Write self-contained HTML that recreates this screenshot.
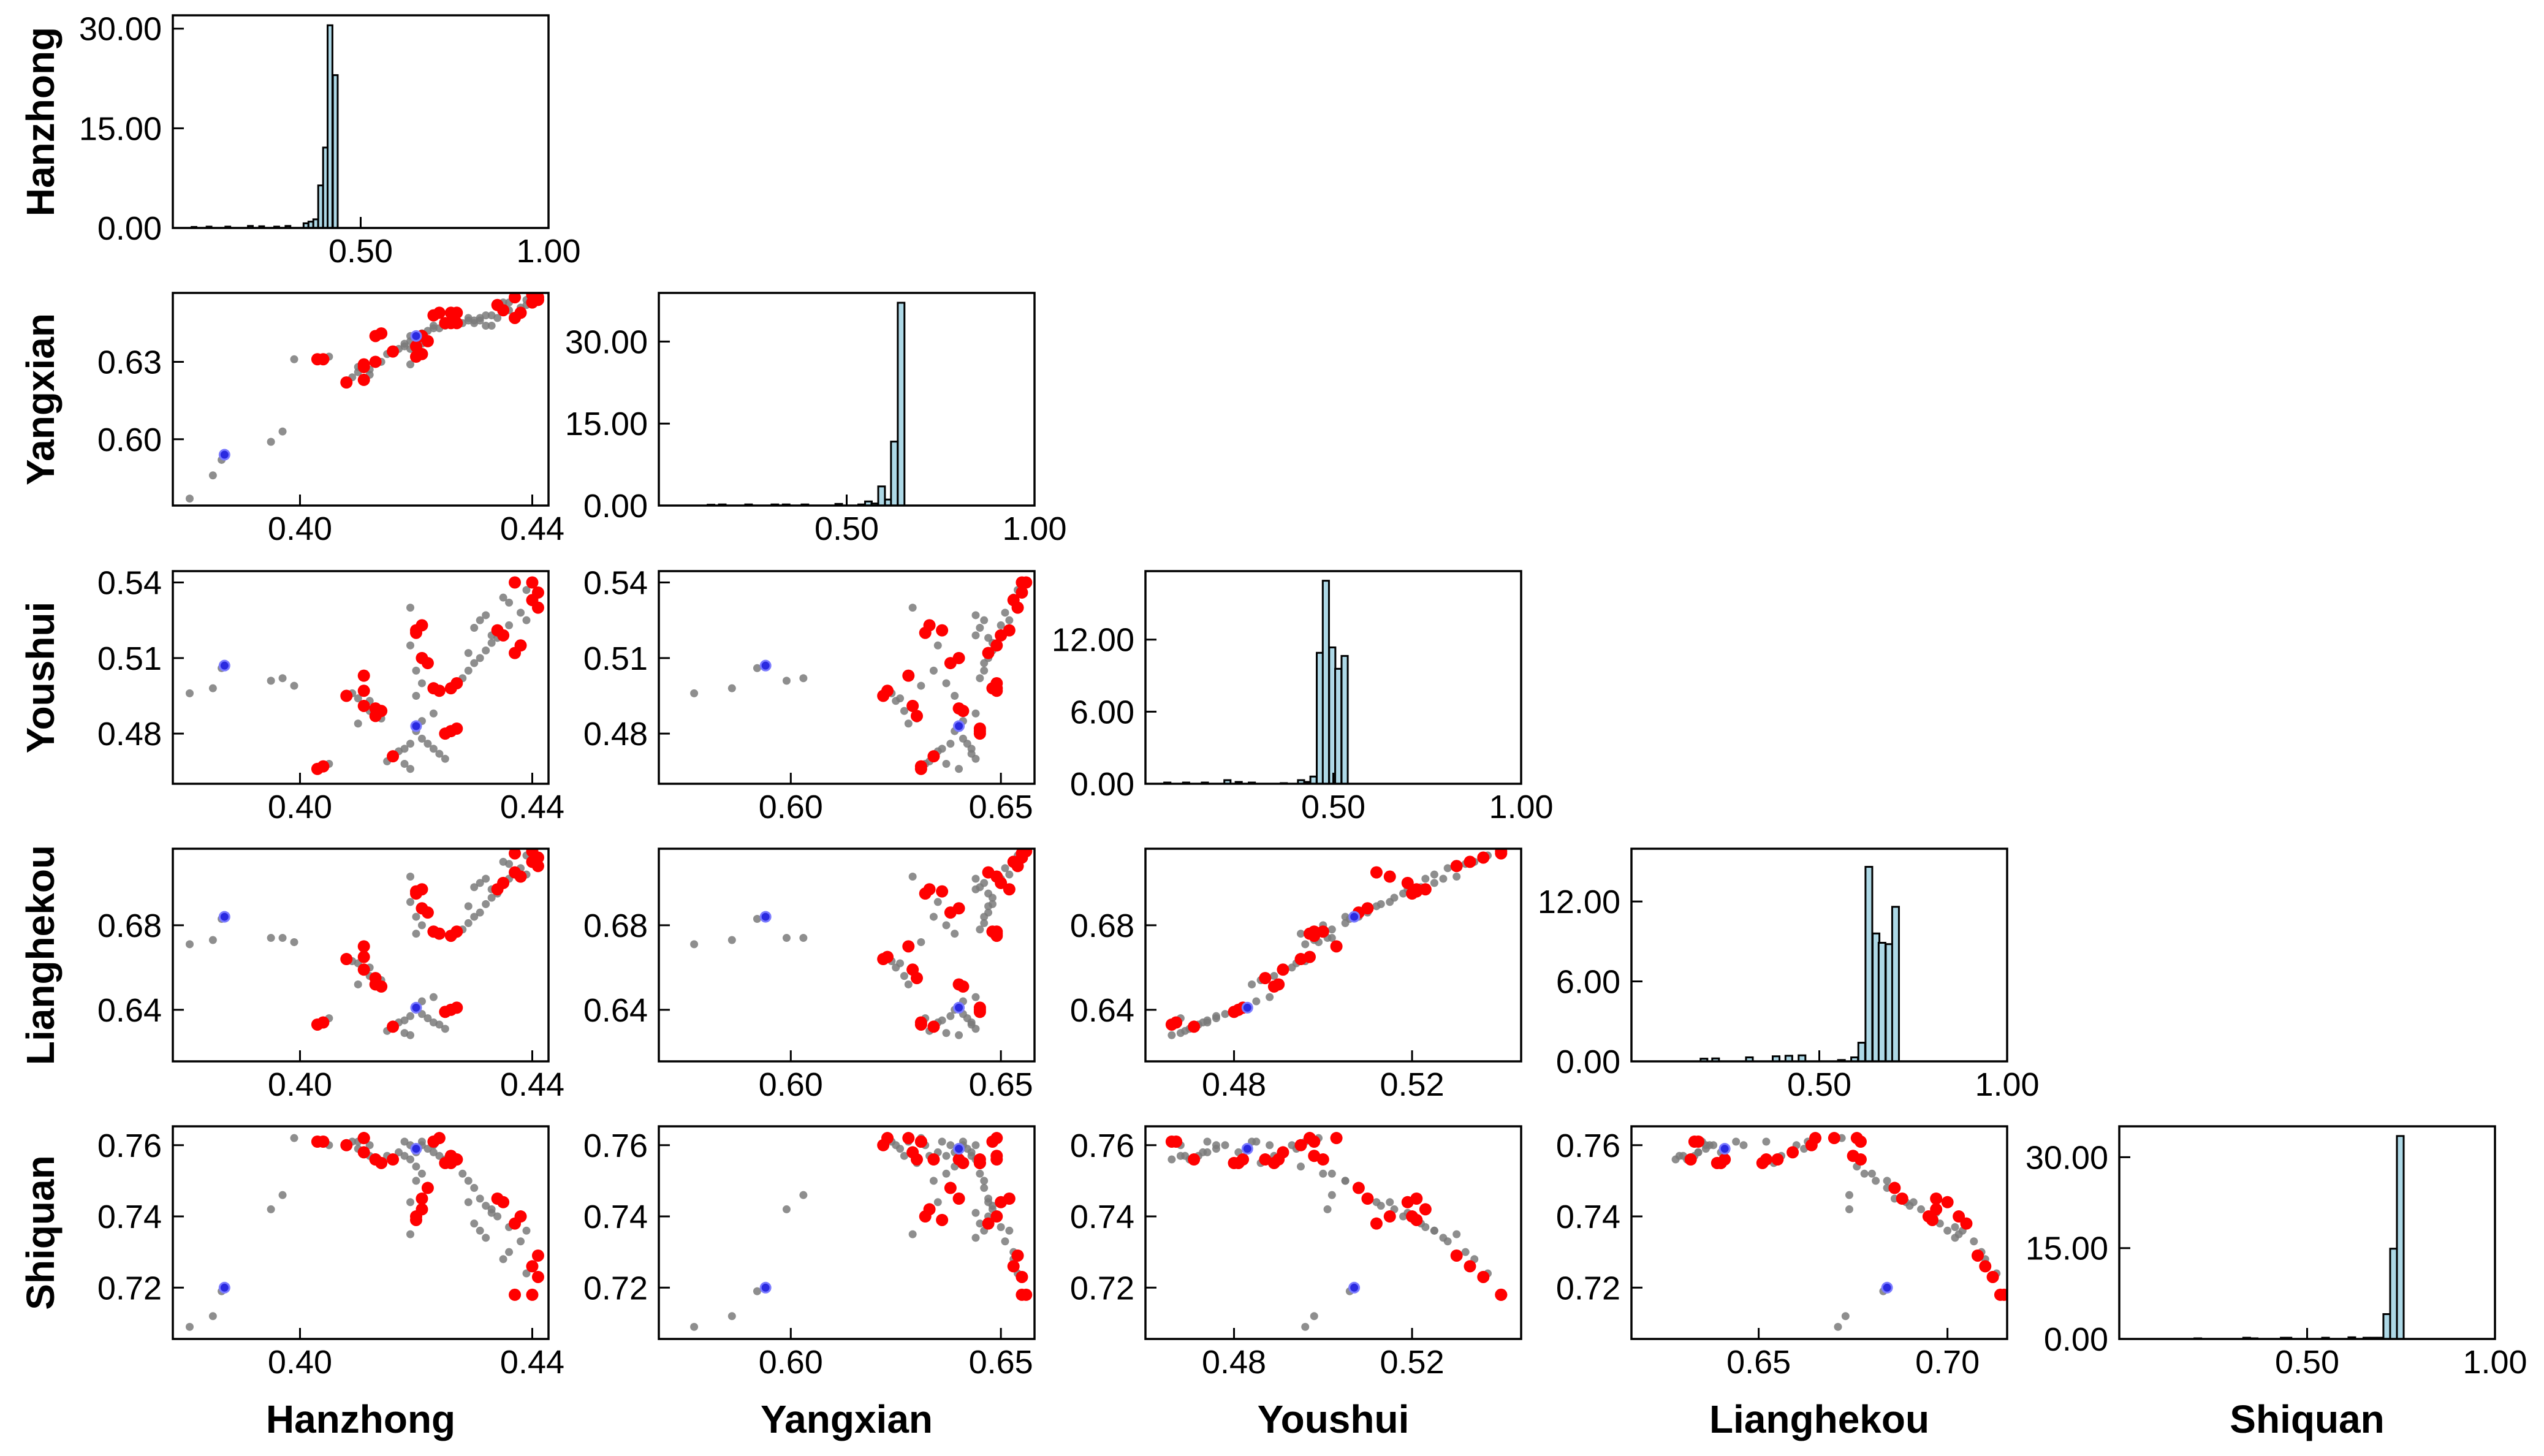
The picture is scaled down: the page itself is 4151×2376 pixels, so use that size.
<!DOCTYPE html>
<html><head><meta charset="utf-8"><style>
html,body{margin:0;padding:0;background:#fff}
svg{display:block}
text{font-family:"Liberation Sans",Arial,sans-serif}
</style></head><body>
<svg id="chart" xmlns="http://www.w3.org/2000/svg" width="4151" height="2376" viewBox="0 0 4151 2376"></svg>
<script>
// ---- data ----
const stations = ["Hanzhong","Yangxian","Youshui","Lianghekou","Shiquan"];
const H  = [.381,.385,.3865,.387,.395,.397,.399,.403,.404,.405,.408,.409,.410,.411,.411,.412,.413,.412,.414,.410,.411,.416,.415,.417,.418,.419,.420,.420,.421,.422,.423,.424,.425,.426,.427,.425,.418,.419,.421,.423,.420,.421,.420,.421,.422,.419,.420,.421,.420,.419,.428,.429,.430,.431,.432,.433,.434,.430,.431,.432,.433,.429,.427,.426,.437,.440,.441,.440,.441,.434,.435,.438,.437,.436,.438,.439,.436,.435,.439,.423,.424,.414,.413];
const Y  = [.577,.586,.592,.594,.599,.603,.631,.631,.631,.632,.622,.624,.626,.628,.629,.627,.630,.625,.630,.628,.623,.634,.633,.635,.636,.638,.640,.639,.641,.642,.643,.643,.644,.645,.645,.645,.637,.640,.641,.644,.632,.633,.636,.640,.638,.635,.634,.637,.639,.629,.645,.646,.646,.647,.648,.648,.647,.645,.646,.644,.644,.647,.649,.649,.655,.656,.655,.653,.654,.652,.650,.649,.647,.653,.651,.652,.650,.653,.654,.648,.649,.641,.640];
const Yo = [.496,.498,.506,.507,.501,.502,.499,.466,.467,.468,.495,.496,.494,.503,.491,.489,.487,.493,.486,.484,.497,.471,.469,.473,.474,.476,.483,.481,.478,.476,.474,.472,.470,.481,.482,.480,.468,.466,.485,.488,.520,.523,.521,.510,.508,.515,.505,.500,.495,.530,.502,.505,.508,.510,.513,.516,.518,.522,.525,.527,.519,.512,.500,.498,.540,.540,.536,.533,.530,.521,.519,.515,.512,.532,.528,.525,.523,.534,.537,.498,.497,.489,.490];
const L  = [.671,.673,.683,.684,.674,.674,.672,.633,.634,.636,.664,.663,.662,.670,.659,.656,.655,.660,.654,.652,.665,.632,.630,.634,.635,.637,.641,.640,.638,.636,.634,.633,.631,.640,.641,.639,.629,.628,.644,.646,.695,.697,.696,.688,.686,.691,.684,.680,.676,.703,.678,.681,.684,.686,.690,.693,.695,.698,.700,.702,.697,.689,.677,.675,.714,.715,.712,.710,.708,.697,.700,.703,.705,.709,.707,.704,.702,.710,.713,.677,.676,.651,.652];
const S  = [.709,.712,.719,.720,.742,.746,.762,.761,.761,.760,.760,.761,.759,.762,.758,.757,.756,.760,.755,.761,.762,.756,.757,.758,.761,.760,.759,.758,.760,.759,.758,.757,.756,.755,.756,.755,.757,.756,.761,.760,.740,.742,.739,.745,.748,.744,.750,.752,.754,.735,.752,.750,.748,.745,.743,.742,.740,.738,.736,.734,.741,.744,.756,.757,.718,.718,.723,.726,.729,.745,.744,.740,.738,.730,.733,.736,.737,.728,.724,.761,.762,.755,.756];
const cls= [0,0,0,2,0,0,0,1,1,0,1,0,0,1,1,0,1,0,0,0,1,1,0,0,0,0,2,0,0,0,0,0,0,1,1,1,0,0,0,0,1,1,1,1,1,0,0,0,0,0,0,0,0,0,0,0,0,0,0,0,0,0,1,1,1,1,1,1,1,1,1,1,1,0,0,0,0,0,0,1,1,1,1];

// histogram bins (left edges) and heights
const histStarts = [
  [0.050,0.090,0.140,0.200,0.230,0.270,0.300,0.348,0.361,0.374,0.387,0.400,0.412,0.426],
  [0.130,0.160,0.230,0.300,0.330,0.380,0.470,0.531,0.549,0.566,0.584,0.602,0.618,0.636],
  [0.050,0.100,0.150,0.210,0.240,0.275,0.360,0.406,0.423,0.439,0.456,0.472,0.489,0.505,0.522],
  [0.184,0.215,0.305,0.376,0.410,0.445,0.550,0.585,0.604,0.623,0.642,0.658,0.677,0.694],
  [0.200,0.330,0.350,0.430,0.440,0.540,0.610,0.650,0.668,0.685,0.703,0.721,0.739]
];
const histCounts = [
  [0.15,0.2,0.2,0.3,0.25,0.2,0.3,0.7,0.95,1.3,6.4,12.1,30.5,23.0],
  [0.15,0.2,0.2,0.2,0.2,0.2,0.3,0.2,0.75,0.37,3.5,1.1,11.7,37.1],
  [0.1,0.1,0.1,0.3,0.15,0.1,0.05,0.3,0.15,0.6,10.9,16.9,11.35,9.57,10.64],
  [0.2,0.22,0.3,0.38,0.42,0.45,0.1,0.3,1.4,14.6,9.6,8.9,8.8,11.6],
  [0.1,0.2,0.1,0.2,0.2,0.2,0.27,0.2,0.2,0.2,4.1,14.9,33.5]
];
const histW = [0.0128,0.0178,0.0165,0.0180,0.0180];
const histYMax = [32.0,38.9,17.7,15.96,35.1];
const histYTicks = [[0,15,30],[0,15,30],[0,6,12],[0,6,12],[0,15,30]];
const histXTicks = [0.5,1.0];

// axis ranges & ticks for scatter use
const xRange = [[0.3781,0.4428],[0.5686,0.658],[0.4601,0.5445],[0.6163,0.7158],[0.7056,0.7653]];
const yRange = [[0.3781,0.4428],[0.5743,0.6567],[0.4601,0.5445],[0.6156,0.7162],[0.7056,0.7653]];
const xTicks = [[0.40,0.44],[0.60,0.65],[0.48,0.52],[0.65,0.70],[0.72,0.74,0.76]];
const yTicks = [[0.40,0.44],[0.60,0.63],[0.48,0.51,0.54],[0.64,0.68],[0.72,0.74,0.76]];

// ---- layout ----
const lefts=[282,1075,1869,2662,3458], tops=[25,478,932,1385,1838], PW=613, PH=347;
const NS="http://www.w3.org/2000/svg";
const svg=document.getElementById("chart");
function mk(tag,attrs,parent){const e=document.createElementNS(NS,tag);for(const k in attrs)e.setAttribute(k,attrs[k]);(parent||svg).appendChild(e);return e;}
const cols=[H,Y,Yo,L,S];

for(let r=0;r<5;r++){
  for(let c=0;c<=r;c++){
    const x0=lefts[c], y0=tops[r];
    const g=mk("g",{});
    
    
    let sx,sy,xt,yt;
    if(r===c){
      sx=v=>x0+v*PW;
      sy=v=>y0+PH-v/histYMax[r]*PH;
      xt=histXTicks; yt=histYTicks[r];
      const st=histStarts[r], ct=histCounts[r];
      for(let i=0;i<st.length;i++){
        const b=mk("rect",{x:sx(st[i]),y:sy(ct[i]),width:histW[r]*PW,height:Math.max(0,PH-(sy(ct[i])-y0)),fill:"#add8e6",stroke:"#000","stroke-width":3},g);
        
        
      }
    } else {
      const xr=xRange[c], yr=yRange[r];
      sx=v=>x0+(v-xr[0])/(xr[1]-xr[0])*PW;
      sy=v=>y0+PH-(v-yr[0])/(yr[1]-yr[0])*PH;
      xt=xTicks[c]; yt=yTicks[r];
      const cp=mk("clipPath",{id:"cp"+r+c},g);
      mk("rect",{x:x0,y:y0,width:PW,height:PH},cp);
      const pg=mk("g",{"clip-path":"url(#cp"+r+c+")"},g);
      for(const pass of [0,1,2]){
        for(let i=0;i<H.length;i++){
          if(cls[i]!==pass)continue;
          const px=sx(cols[c][i]), py=sy(cols[r][i]);
          let d;
          if(pass===0) d=mk("circle",{cx:px,cy:py,r:6.5,fill:"#7a7a7a","fill-opacity":0.85},pg);
          else if(pass===1) d=mk("circle",{cx:px,cy:py,r:10,fill:"#ff0000"},pg);
          else d=mk("circle",{cx:px,cy:py,r:8,fill:"#2a2ae0",stroke:"#7b7bff","stroke-width":3},pg);
          
          
        }
      }
    }
    const f=mk("rect",{x:x0,y:y0,width:PW,height:PH,fill:"none",stroke:"#000","stroke-width":3.5},g);
    
    
    xt.forEach(v=>{
      const px=sx(v);
      mk("line",{x1:px,y1:y0+PH,x2:px,y2:y0+PH-18,stroke:"#000","stroke-width":3},g);
      const t=mk("text",{x:px,y:y0+PH+56,"font-size":54,"text-anchor":"middle",fill:"#000"},g);
      t.textContent=v.toFixed(2);
      
      
    });
    yt.forEach(v=>{
      const py=sy(v);
      mk("line",{x1:x0,y1:py,x2:x0+18,y2:py,stroke:"#000","stroke-width":3},g);
      const t=mk("text",{x:x0-18,y:py+19,"font-size":54,"text-anchor":"end",fill:"#000"},g);
      t.textContent=v.toFixed(2);
      
      
    });
  }
  const cy=tops[r]+PH/2;
  const rl=mk("text",{x:0,y:0,"font-size":64,"font-weight":"bold","text-anchor":"middle",fill:"#000",transform:"translate(88,"+cy+") rotate(-90)"});
  rl.textContent=stations[r];
  
  
  const cl=mk("text",{x:lefts[r]+PW/2,y:2338,"font-size":64,"font-weight":"bold","text-anchor":"middle",fill:"#000"});
  cl.textContent=stations[r];
  
  
}
</script>
</body></html>
